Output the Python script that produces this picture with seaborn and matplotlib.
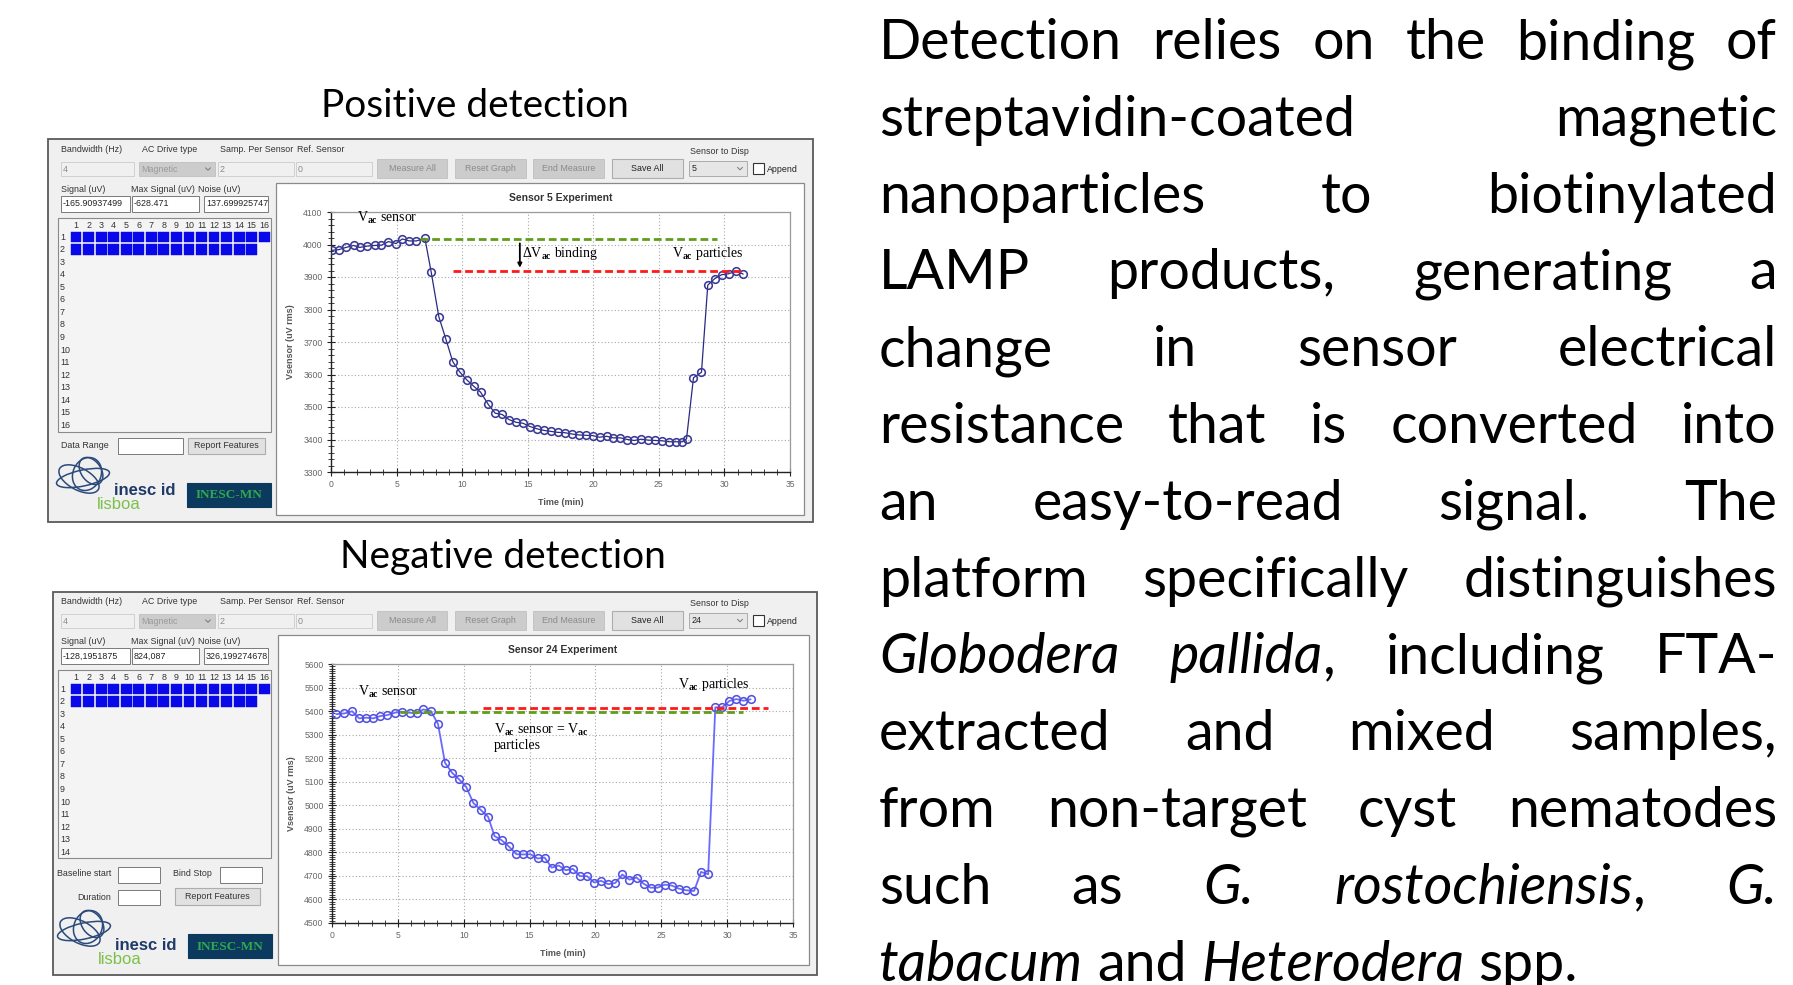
import numpy as np
import pandas as pd
import matplotlib
matplotlib.use("Agg")
import matplotlib.pyplot as plt
import seaborn as sns
from matplotlib.patches import Rectangle, Ellipse
from matplotlib.ticker import MultipleLocator

# ---------------- data ----------------
pos_time = [0.08, 0.58, 1.14, 1.72, 2.2, 2.73, 3.32, 3.85, 4.38, 4.96, 5.44, 5.97, 6.5, 7.16,
            7.64, 8.22, 8.75, 9.28, 9.81, 10.34, 10.88, 11.4, 11.99, 12.52, 13.05, 13.58, 14.11,
            14.64, 15.17, 15.7, 16.23, 16.76, 17.29, 17.82, 18.36, 18.89, 19.42, 19.95, 20.48,
            21.01, 21.54, 22.07, 22.6, 23.13, 23.66, 24.19, 24.72, 25.25, 25.78, 26.31, 26.79,
            27.11, 27.64, 28.25, 28.73, 29.26, 29.79, 30.32, 30.9, 31.43]
pos_vsensor = [3982, 3984, 3991, 3997, 3991, 3995, 3997, 3998, 4009, 4003, 4017, 4011, 4011, 4019,
               3915, 3778, 3710, 3640, 3608, 3584, 3564, 3546, 3508, 3481, 3477, 3461, 3453,
               3450, 3440, 3433, 3428, 3425, 3422, 3421, 3417, 3414, 3413, 3412, 3407,
               3410, 3405, 3405, 3400, 3397, 3401, 3398, 3397, 3396, 3393, 3393, 3393,
               3402, 3590, 3607, 3875, 3895, 3907, 3910, 3918, 3909]

neg_time = [0.32, 0.94, 1.53, 2.06, 2.6, 3.14, 3.67, 4.21, 4.75, 5.28, 5.9, 6.44, 6.92, 7.51,
            8.05, 8.58, 9.12, 9.65, 10.19, 10.73, 11.32, 11.85, 12.34, 12.87, 13.41, 14.0,
            14.53, 15.07, 15.61, 16.14, 16.68, 17.22, 17.75, 18.29, 18.83, 19.36, 19.9, 20.43,
            20.97, 21.51, 22.04, 22.58, 23.12, 23.65, 24.19, 24.72, 25.26, 25.8, 26.33, 26.87,
            27.49, 28.02, 28.56, 29.1, 29.63, 30.17, 30.7, 31.24, 31.78]
neg_vsensor = [5387, 5390, 5399, 5369, 5372, 5369, 5379, 5383, 5393, 5397, 5393, 5390, 5407, 5400,
               5345, 5180, 5138, 5110, 5078, 5010, 4979, 4951, 4869, 4852, 4826, 4792,
               4791, 4792, 4774, 4778, 4735, 4744, 4724, 4730, 4699, 4699, 4672, 4679,
               4665, 4670, 4706, 4684, 4693, 4667, 4650, 4650, 4663, 4659, 4646, 4639,
               4636, 4717, 4707, 5416, 5416, 5443, 5451, 5444, 5450]

# reference levels: (level, x_start, x_end)
pos_sensor_ref = [4018, 6.8, 29.4]
pos_particles_ref = [3918, 9.3, 31.3]
neg_sensor_ref = [5396, 5.2, 31.2]
neg_particles_ref = [5414, 11.5, 33.1]

pos_title = "Sensor 5 Experiment"
neg_title = "Sensor 24 Experiment"
pos_fields = ["-165.90937499", "-628.471", "137.699925747", "5"]
neg_fields = ["-128,1951875", "824,087", "326,199274678", "24"]

para_lines = [
    "Detection relies on the binding of",
    "streptavidin-coated magnetic",
    "nanoparticles to biotinylated",
    "LAMP products, generating a",
    "change in sensor electrical",
    "resistance that is converted into",
    "an easy-to-read signal. The",
    "platform specifically distinguishes",
    "*Globodera* *pallida*, including FTA-",
    "extracted and mixed samples,",
    "from non-target cyst nematodes",
    "such as *G.* *rostochiensis*, *G.*",
    "*tabacum* and *Heterodera* spp.",
]

# ---------------- setup ----------------
W, H = 1793, 985
sns.set_style("white")
plt.rcParams["font.family"] = ["Liberation Sans", "DejaVu Sans"]
plt.rcParams["mathtext.fontset"] = "custom"
plt.rcParams["mathtext.rm"] = "Liberation Serif"
plt.rcParams["mathtext.bf"] = "Liberation Serif:bold"
plt.rcParams["mathtext.it"] = "Liberation Serif:italic"

fig = plt.figure(figsize=(W / 100, H / 100), dpi=100)
fig.patch.set_facecolor("white")
bg = fig.add_axes([0, 0, 1, 1], zorder=0)
bg.set_xlim(0, W)
bg.set_ylim(H, 0)
bg.axis("off")

UI = 6.4


def rect(x0, y0, x1, y1, fc, ec, lw=0.8, z=1):
    bg.add_patch(Rectangle((x0, y0), x1 - x0, y1 - y0, facecolor=fc, edgecolor=ec, lw=lw, zorder=z))


def txt(x, y, s, size=UI, color="#333333", ha="left", va="center", **kw):
    bg.text(x, y, s, fontsize=size, color=color, ha=ha, va=va, zorder=5, **kw)


def chevron(x, y):
    bg.plot([x - 2.5, x, x + 2.5], [y - 1.2, y + 1.3, y - 1.2], color="#777777", lw=0.7, zorder=5)


def draw_logo(cx, cy, base_inesc, base_lisboa, mn_box):
    for (dx, dy, w, h, a) in [(-2, 3, 54, 16, -12), (2, -1, 28, 34, 25), (-6, 4, 44, 22, 28), (6, -4, 20, 30, -35)]:
        bg.add_patch(Ellipse((cx + dx, cy + dy), w, h, angle=a, fill=False,
                             edgecolor="#2b4a7a", lw=1.1, zorder=4))
    bg.text(cx + 29, base_inesc, "inesc id", fontsize=12, fontweight="bold", color="#1f3a68",
            ha="left", va="baseline", zorder=6)
    bg.text(cx + 12, base_lisboa, "lisboa", fontsize=12, color="#7cc04a",
            ha="left", va="baseline", zorder=5)
    x0, y0, x1, y1 = mn_box
    rect(x0, y0, x1, y1, "#0c3a5e", "#0c3a5e", z=4)
    bg.text((x0 + x1) / 2, (y0 + y1) / 2 + 0.5, "INESC-MN", fontsize=9.5, fontweight="bold",
            color="#2fa84f", family="Liberation Serif", ha="center", va="center", zorder=6)


def draw_panel(dy, box, plotbox, fields, nrows, negative):
    x0, y0, x1, y1 = box
    rect(x0, y0, x1, y1, "#f0f0f0", "#5a5a5a", lw=1.3, z=1)
    # top row labels
    for x, s in [(61, "Bandwidth (Hz)"), (142, "AC Drive type"), (220, "Samp. Per Sensor"), (297, "Ref. Sensor")]:
        txt(x, 150 + dy, s)
    txt(690, 152 + dy, "Sensor to Disp")
    # disabled fields
    for (a, b, s) in [(61, 134, "4"), (218, 294, "2"), (296, 372, "0")]:
        rect(a, 162 + dy, b, 176 + dy, "#f0f0f0", "#cfcfcf", lw=0.7, z=2)
        txt(a + 2, 169 + dy, s, color="#8a8a8a")
    rect(139, 162 + dy, 215, 176 + dy, "#cccccc", "#c4c4c4", lw=0.7, z=2)
    txt(141, 169 + dy, "Magnetic", color="#9a9a9a")
    chevron(208, 169 + dy)
    # buttons
    for (a, b, s) in [(377, 447, "Measure All"), (455, 526, "Reset Graph"), (533, 604, "End Measure")]:
        rect(a, 159 + dy, b, 178 + dy, "#cccccc", "#c4c4c4", lw=0.7, z=2)
        txt((a + b) / 2, 168.5 + dy, s, color="#8a8a8a", ha="center")
    rect(612, 159 + dy, 683, 178 + dy, "#e1e1e1", "#adadad", lw=0.8, z=2)
    txt(647.5, 168.5 + dy, "Save All", color="#222222", ha="center")
    rect(689, 161 + dy, 747, 176 + dy, "#e6e6e6", "#acacac", lw=0.7, z=2)
    txt(692, 168.5 + dy, fields[3], color="#222222")
    chevron(740, 168.5 + dy)
    rect(753, 163 + dy, 764, 174 + dy, "white", "#333333", lw=0.8, z=2)
    txt(767, 169 + dy, "Append", color="#222222")
    # signal row
    for x, s in [(61, "Signal (uV)"), (131, "Max Signal (uV)"), (198, "Noise (uV)")]:
        txt(x, 189 + dy, s)
    for (a, b), s in zip([(61, 130), (132, 199), (204, 268)], fields[:3]):
        rect(a, 196 + dy, b, 212 + dy, "white", "#7a7a7a", lw=0.7, z=2)
        txt(a + 2, 204 + dy, s, color="#222222")
    # sensor grid
    gy1 = 432 if nrows == 16 else 858 - dy
    rect(58, 218 + dy, 271, gy1 + dy, "#f4f4f4", "#8a8a8a", lw=0.8, z=2)
    for c in range(1, 17):
        cx = 76 + (c - 1) * 12.55
        txt(cx, 226 + dy, str(c), ha="center")
    for r in range(1, nrows + 1):
        ry = 237 + (r - 1) * 12.56 + dy
        txt(60, ry, str(r))
        if r <= 2:
            ncol = 16 if r == 1 else 15
            for c in range(1, ncol + 1):
                cx = 76 + (c - 1) * 12.55
                rect(cx - 5.4, ry - 5.3, cx + 5.4, ry + 5.3, "#0808e8", "#0808e8", lw=0.3, z=3)
    # bottom controls
    if not negative:
        txt(61, 446 + dy, "Data Range")
        rect(118, 438 + dy, 183, 454 + dy, "white", "#7a7a7a", lw=0.7, z=2)
        rect(188, 438 + dy, 265, 454 + dy, "#e1e1e1", "#adadad", lw=0.8, z=2)
        txt(226.5, 446 + dy, "Report Features", color="#333333", ha="center")
        draw_logo(85, 475 + dy, 495 + dy, 509 + dy, (187, 483 + dy, 271, 507 + dy))
    else:
        txt(57, 874, "Baseline start")
        rect(118, 867, 160, 883, "white", "#7a7a7a", lw=0.7, z=2)
        txt(173, 874, "Bind Stop")
        rect(220, 867, 262, 883, "white", "#7a7a7a", lw=0.7, z=2)
        txt(77, 897, "Duration")
        rect(118, 890, 160, 905, "white", "#7a7a7a", lw=0.7, z=2)
        rect(175, 888, 260, 905, "#e1e1e1", "#adadad", lw=0.8, z=2)
        txt(217.5, 896.5, "Report Features", color="#333333", ha="center")
        draw_logo(86, 928, 950, 964, (188, 934, 272, 958))
    # white chart area
    px0, py0, px1, py1 = plotbox
    rect(px0, py0, px1, py1, "white", "#8a8a8a", lw=0.9, z=2)


def add_chart(pix, t, v, color, edge, lw, ylim, ymaj, ymin, title, refs):
    x0, y0, x1, y1 = pix
    ax = fig.add_axes([x0 / W, 1 - y1 / H, (x1 - x0) / W, (y1 - y0) / H], zorder=3)
    df = pd.DataFrame({"Time (min)": t, "Vsensor (uV rms)": v})
    sns.lineplot(data=df, x="Time (min)", y="Vsensor (uV rms)", ax=ax, color=color, lw=lw,
                 marker="o", markersize=5.5, markerfacecolor="none", markeredgecolor=edge,
                 markeredgewidth=1.15, estimator=None, sort=False, zorder=4)
    (s_lvl, s_a, s_b), (p_lvl, p_a, p_b) = refs
    ax.plot([s_a, s_b], [s_lvl, s_lvl], color="#5f9e1a", lw=2, ls=(0, (2.8, 1.4)), zorder=5)
    ax.plot([p_a, p_b], [p_lvl, p_lvl], color="#ff1a1a", lw=2, ls=(0, (2.8, 1.4)), zorder=5)
    ax.set_xlim(0, 35)
    ax.set_ylim(*ylim)
    ax.xaxis.set_major_locator(MultipleLocator(5))
    ax.xaxis.set_minor_locator(MultipleLocator(1))
    ax.yaxis.set_major_locator(MultipleLocator(ymaj))
    ax.yaxis.set_minor_locator(MultipleLocator(ymin))
    ax.grid(which="major", color="#a8a8a8", linestyle=(0, (1, 2)), lw=0.8)
    ax.tick_params(which="both", direction="inout", color="#222222", labelcolor="#666666",
                   labelsize=6.2, bottom=True, left=True)
    ax.tick_params(which="major", length=6, width=0.8, pad=3)
    ax.tick_params(which="minor", length=4, width=0.6)
    for s in ["left", "bottom"]:
        ax.spines[s].set_color("#222222")
        ax.spines[s].set_linewidth(1.0)
    for s in ["top", "right"]:
        ax.spines[s].set_color("#9a9a9a")
        ax.spines[s].set_linewidth(0.9)
    ax.set_title(title, fontsize=7.5, fontweight="bold", color="#333333", pad=8)
    ax.set_xlabel("Time (min)", fontsize=6.5, fontweight="bold", color="#555555", labelpad=6)
    ax.set_ylabel("Vsensor (uV rms)", fontsize=6.5, fontweight="bold", color="#555555", labelpad=6)
    ax.set_facecolor("white")
    return ax


# ---------------- panels ----------------
draw_panel(0, (48, 139, 813, 522), (276, 183, 804, 515), pos_fields, 16, False)
draw_panel(452, (53, 592, 817, 975), (278, 635, 809, 965), neg_fields, 14, True)

serif = dict(family="Liberation Serif", fontsize=10, color="black", va="baseline", zorder=6)

ax1 = add_chart((331, 212, 790, 472), pos_time, pos_vsensor, "#2a2a80", "#3a3a96", 0.9,
                (3300, 4100), 100, 20, pos_title, (pos_sensor_ref, pos_particles_ref))
ax1.text(1.95, 4068, r"V$_{\mathbf{ac}}$ sensor", **serif)
ax1.text(14.55, 3963, r"$\Delta$V$_{\mathbf{ac}}$ binding", **serif)
ax1.text(26.0, 3963, r"V$_{\mathbf{ac}}$ particles", **serif)
ax1.annotate("", xy=(14.4, 3920), xytext=(14.4, 4012),
             arrowprops=dict(arrowstyle="-|>", color="black", lw=1.3, mutation_scale=6), zorder=6)

ax2 = add_chart((332, 664, 793, 923), neg_time, neg_vsensor, "#6a6aff", "#5252e0", 1.3,
                (4500, 5600), 100, 10, neg_title, (neg_sensor_ref, neg_particles_ref))
ax2.text(1.95, 5465, r"V$_{\mathbf{ac}}$ sensor", **serif)
ax2.text(26.3, 5497, r"V$_{\mathbf{ac}}$ particles", **serif)
ax2.text(12.3, 5305, r"V$_{\mathbf{ac}}$ sensor = V$_{\mathbf{ac}}$", **serif)
ax2.text(12.3, 5237, "particles", **serif)

# ---------------- headings ----------------
bg.text(475, 117, "Positive detection", family="Lato", fontsize=28, ha="center", va="baseline", color="black")
bg.text(503, 568, "Negative detection", family="Lato", fontsize=28, ha="center", va="baseline", color="black")

# ---------------- justified paragraph ----------------
renderer = fig.canvas.get_renderer()
PX0, PX1 = 879, 1777
BASE0, LEAD = 59, 76.8


def seg_width(s, italic, fs):
    if not s:
        return 0.0
    t = bg.text(0, 0, s, fontsize=fs, family="Lato", style="italic" if italic else "normal")
    w = t.get_window_extent(renderer).width
    t.remove()
    return w


def parse_word(w):
    parts = w.split("*")
    return [(p, i % 2 == 1) for i, p in enumerate(parts) if p]


def word_width(segs, fs):
    return sum(seg_width(s, it, fs) for s, it in segs)


ref_fs = 40
space_ref = seg_width("n n", False, ref_fs) - seg_width("nn", False, ref_fs)
ratios = []
for line in para_lines[:-1]:
    words = [parse_word(w) for w in line.split(" ")]
    nat = sum(word_width(ws, ref_fs) for ws in words) + 0.9 * space_ref * (len(words) - 1)
    ratios.append((PX1 - PX0) / nat)
fs = min(40.0, ref_fs * min(ratios))
space = seg_width("n n", False, fs) - seg_width("nn", False, fs)

for i, line in enumerate(para_lines):
    words = [parse_word(w) for w in line.split(" ")]
    widths = [word_width(ws, fs) for ws in words]
    if i < len(para_lines) - 1 and len(words) > 1:
        gap = (PX1 - PX0 - sum(widths)) / (len(words) - 1)
    else:
        gap = space
    x = PX0
    y = BASE0 + i * LEAD
    for segs, wdt in zip(words, widths):
        xs = x
        for s, it in segs:
            bg.text(xs, y, s, fontsize=fs, family="Lato", style="italic" if it else "normal",
                    ha="left", va="baseline", color="black", zorder=6)
            xs += seg_width(s, it, fs)
        x += wdt + gap

fig.savefig("out.png", dpi=100, facecolor="white")
